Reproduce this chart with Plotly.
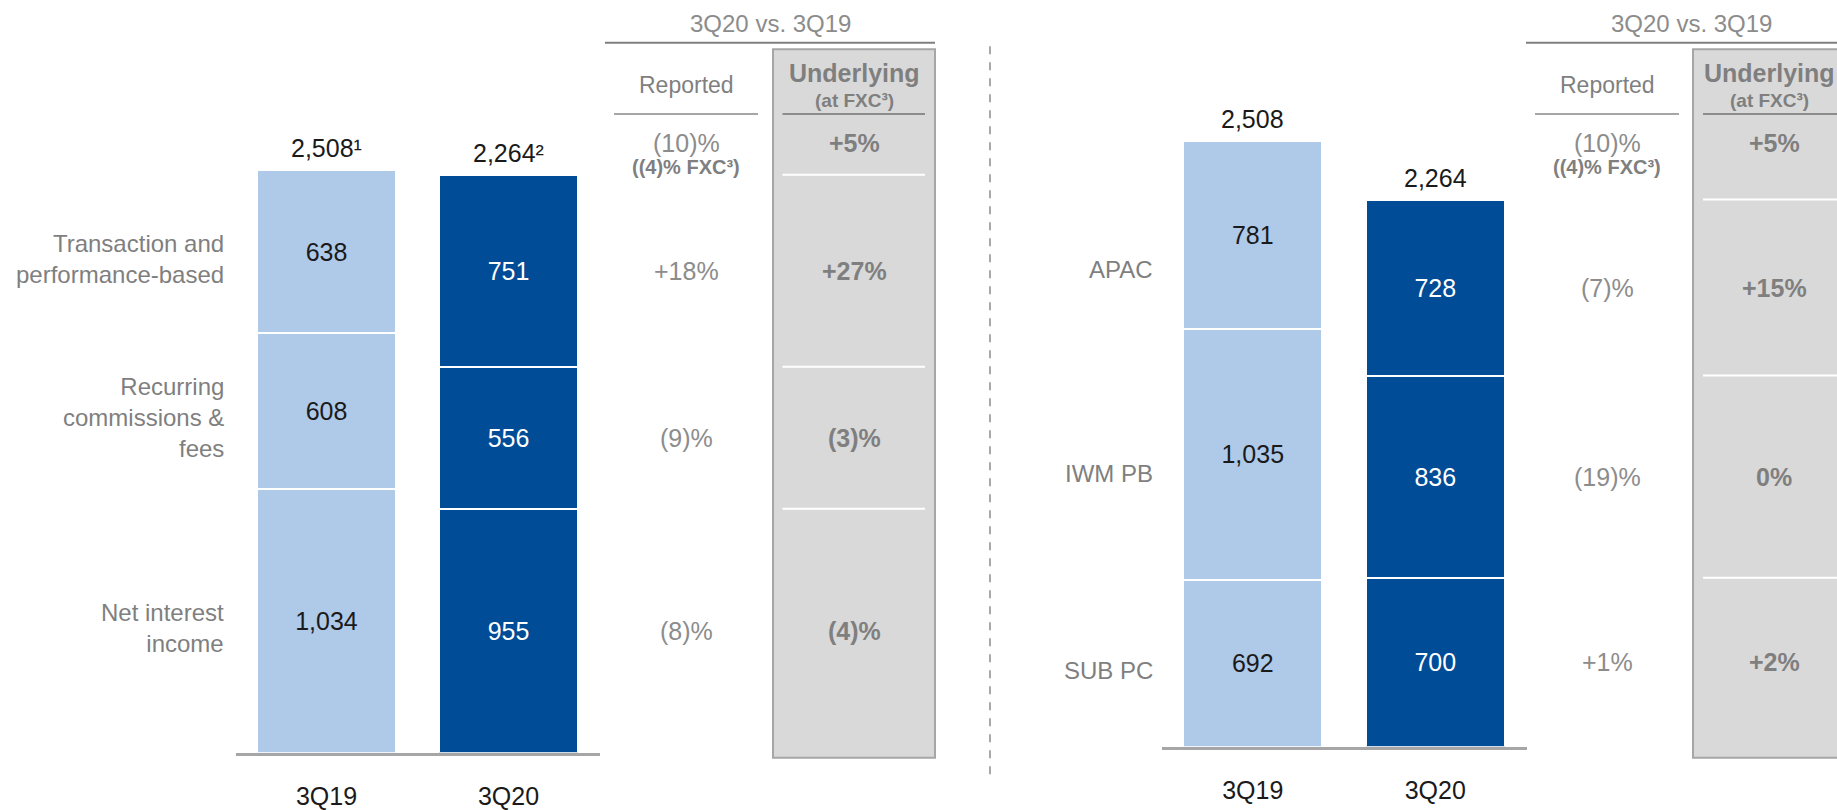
import plotly.graph_objects as go

# ---------------- data ----------------
periods = ["3Q19", "3Q20"]

# Left panel: revenue by type (bottom -> top)
left_labels = ["Net interest<br>income", "Recurring<br>commissions &<br>fees", "Transaction and<br>performance-based"]
left_3q19 = [1034, 608, 638]
left_3q20 = [955, 556, 751]
left_totals = ["2,508¹", "2,264²"]
left_reported = ["(8)%", "(9)%", "+18%"]
left_underlying = ["(4)%", "(3)%", "+27%"]

# Right panel: revenue by region (bottom -> top)
right_labels = ["SUB PC", "IWM PB", "APAC"]
right_3q19 = [692, 1035, 781]
right_3q20 = [700, 836, 728]
right_totals = ["2,508", "2,264"]
right_reported = ["+1%", "(19)%", "(7)%"]
right_underlying = ["+2%", "0%", "+15%"]

# total row (same for both panels)
total_reported = "(10)%"
total_reported_fxc = "<b>((4)% FXC³)</b>"
total_underlying = "+5%"
header_text = "3Q20 vs. 3Q19"
col_reported = "Reported"
col_underlying = "<b>Underlying</b>"
col_underlying_sub = "<b>(at FXC³)</b>"

# ---------------- style ----------------
W, H = 1837, 810
FONT = "Liberation Sans, Arial, Helvetica, sans-serif"
LIGHT = "#afc9e9"
DARK = "#004c97"
GRAY_TXT = "#7f7f7f"
GRAY_LIGHT_TXT = "#8c8c8c"
BOX_FILL = "#d9d9d9"
BOX_LINE = "#a6a6a6"


def px(x):
    return x / W


def py(y):
    return 1 - y / H


panels = [
    dict(labels=left_labels, v19=left_3q19, v20=left_3q20, totals=left_totals,
         rep=left_reported, und=left_underlying, xa="x", ya="y",
         label_right=226, label_shift=-7, label_mode="3q19",
         rep_x=686, und_x=854, und_head_x=854, box=(773, 935), und_line=(782.5, 925),
         rep_line=(614, 758), head_line=(605, 935), head_x=770),
    dict(labels=right_labels, v19=right_3q19, v20=right_3q20, totals=right_totals,
         rep=right_reported, und=right_underlying, xa="x2", ya="y2",
         label_right=1155, label_shift=-8, label_mode="avg",
         rep_x=1607, und_x=1774, und_head_x=1769, box=(1693, 1855), und_line=(1703, 1845),
         rep_line=(1535, 1679), head_line=(1526, 1837), head_x=1691),
]

fig = go.Figure()
annotations = []
shapes = []


def cum_mid(vals):
    out, c = [], 0
    for v in vals:
        out.append(c + v / 2)
        c += v
    return out


def cum_top(vals):
    out, c = [], 0
    for v in vals:
        c += v
        out.append(c)
    return out


def ann(x, y, text, size, color, xref="paper", yref="paper", xanchor="center", yanchor="middle", **kw):
    d = dict(x=x, y=y, xref=xref, yref=yref, text=text, showarrow=False,
             xanchor=xanchor, yanchor=yanchor,
             font=dict(family=FONT, size=size, color=color))
    d.update(kw)
    annotations.append(d)


for p in panels:
    yref = p["ya"]
    xref = p["xa"]
    for i in range(3):
        fig.add_trace(go.Bar(
            x=periods, y=[p["v19"][i], p["v20"][i]],
            xaxis=p["xa"], yaxis=p["ya"],
            marker=dict(color=[LIGHT, DARK], line=dict(color="white", width=2)),
            text=[f"{p['v19'][i]:,}", f"{p['v20'][i]:,}"],
            textposition="inside", insidetextanchor="middle", textangle=0,
            textfont=dict(family=FONT, size=25, color=["#1a1a1a", "white"]),
            showlegend=False, hoverinfo="skip",
        ))
    # totals above stacks
    stack_sums = [sum(p["v19"]), sum(p["v20"])]
    for j in range(2):
        ann(periods[j], stack_sums[j], p["totals"][j], 25, "#1a1a1a",
            xref=xref, yref=yref, yanchor="bottom", yshift=6)
    # category labels
    mids19 = cum_mid(p["v19"])
    mids20 = cum_mid(p["v20"])
    for i in range(3):
        yv = mids19[i] if p["label_mode"] == "3q19" else (mids19[i] + mids20[i]) / 2
        ann(px(p["label_right"]), yv, p["labels"][i], 24, GRAY_TXT,
            yref=yref, xanchor="right", align="right", yshift=p["label_shift"])
    # table: gray box
    shapes.append(dict(type="rect", xref="paper", yref="paper",
                       x0=px(p["box"][0]), x1=px(p["box"][1]), y0=py(771), y1=py(50),
                       fillcolor=BOX_FILL, line=dict(color=BOX_LINE, width=2), layer="below"))
    # header line & text
    shapes.append(dict(type="line", xref="paper", yref="paper",
                       x0=px(p["head_line"][0]), x1=px(p["head_line"][1]), y0=py(43.5), y1=py(43.5),
                       line=dict(color=GRAY_TXT, width=2)))
    ann(px(p["head_x"]), py(24), header_text, 24, GRAY_LIGHT_TXT)
    # column headers
    ann(px(p["rep_x"]), py(86), col_reported, 23, GRAY_TXT)
    ann(px(p["und_head_x"]), py(74), col_underlying, 25, GRAY_TXT)
    ann(px(p["und_head_x"]), py(102), col_underlying_sub, 19, GRAY_TXT)
    shapes.append(dict(type="line", xref="paper", yref="paper",
                       x0=px(p["rep_line"][0]), x1=px(p["rep_line"][1]), y0=py(116), y1=py(116),
                       line=dict(color=BOX_LINE, width=2)))
    shapes.append(dict(type="line", xref="paper", yref="paper",
                       x0=px(p["und_line"][0]), x1=px(p["und_line"][1]), y0=py(116), y1=py(116),
                       line=dict(color="#8c8c8c", width=2)))
    # total row
    ann(px(p["rep_x"]), py(146), total_reported, 25, GRAY_LIGHT_TXT)
    ann(px(p["rep_x"]), py(170), total_reported_fxc, 20, GRAY_TXT)
    ann(px(p["und_x"]), py(146), f"<b>{total_underlying}</b>", 25, GRAY_TXT)
    # white separators inside the underlying box at 3Q20 segment boundaries
    for t in cum_top(p["v20"]):
        shapes.append(dict(type="line", xref="paper", yref=yref,
                           x0=px(p["und_line"][0]), x1=px(p["und_line"][1]), y0=t, y1=t,
                           line=dict(color="white", width=2)))
    # per-segment change rows
    for i in range(3):
        ann(px(p["rep_x"]), mids20[i], p["rep"][i], 25, GRAY_LIGHT_TXT, yref=yref)
        ann(px(p["und_x"]), mids20[i], f"<b>{p['und'][i]}</b>", 25, GRAY_TXT, yref=yref)

# dashed divider
shapes.append(dict(type="line", xref="paper", yref="paper", x0=px(990), x1=px(990), y0=py(47), y1=py(796),
                   line=dict(color="#8c8c8c", width=1.5, dash="8px,8px")))

axis_common = dict(type="category", range=[-0.5, 1.5], showline=True, linecolor=BOX_LINE, linewidth=3,
                   ticks="", showgrid=False, zeroline=False, fixedrange=True,
                   tickfont=dict(family=FONT, size=25, color="#1a1a1a"), ticklabelstandoff=19)
yaxis_common = dict(visible=False, showgrid=False, zeroline=False, fixedrange=True)

fig.update_layout(
    width=W, height=H, autosize=False, margin=dict(l=0, r=0, t=0, b=0, pad=0),
    paper_bgcolor="white", plot_bgcolor="rgba(0,0,0,0)",
    barmode="stack", bargap=0.236,
    font=dict(family=FONT),
    xaxis=dict(domain=[px(235.5), px(599.5)], anchor="y", **axis_common),
    yaxis=dict(domain=[py(766), py(40)], range=[0, 726 / 0.26], anchor="x", **yaxis_common),
    xaxis2=dict(domain=[px(1161.5), px(1526.5)], anchor="y2", **axis_common),
    yaxis2=dict(domain=[py(760), py(40)], range=[0, 720 / 0.246], anchor="x2", **yaxis_common),
    annotations=annotations, shapes=shapes,
)

page_css = (
    "var s=document.createElement('style');"
    "s.textContent='html,body{margin:0;padding:0;overflow:hidden;height:810px;line-height:0;font-size:0;}"
    ".svg-container{display:block !important;}';"
    "document.head.appendChild(s);"
)
fig.write_html("out.html", config={"displayModeBar": False, "responsive": False}, post_script=page_css)
